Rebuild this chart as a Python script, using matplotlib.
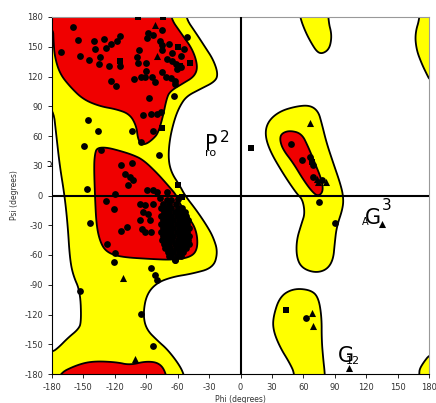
import numpy as np
import matplotlib
matplotlib.use('Agg')
import matplotlib.pyplot as plt
from matplotlib.patches import Polygon

plt.rcParams['axes.unicode_minus'] = False

# region outlines (phi, psi), drawn beyond the limits where they wrap
yellow_regions = [
    [(-200, 200), (-52, 200), (-53, 180), (-42, 163), (-34, 150), (-26, 137), (-21.5, 123),
     (-24, 115), (-39, 107), (-51.6, 100), (-58, 90), (-63, 77), (-67.6, 57), (-69, 37),
     (-66, 23), (-58, 10), (-53, 0), (-42, -15), (-32.4, -30), (-26, -42), (-21.6, -57),
     (-26, -73), (-46.8, -79), (-64.5, -82), (-80, -88), (-89.8, -100), (-93, -119.7),
     (-90, -135), (-78.6, -147), (-70, -155), (-59.6, -169), (-54, -180), (-50, -200),
     (-200, -200), (-200, -160), (-180, -158), (-174, -153.5), (-164.7, -143.5),
     (-155, -135), (-152, -128), (-153, -97), (-160, -80), (-163, -63), (-165, -30),
     (-168, 0), (-172.6, 30), (-175.8, 60), (-179, 90), (-200, 100)],
    [(54, 200), (56.7, 180), (62, 165), (68, 153), (73, 145), (77.5, 143), (83, 146),
     (86, 152), (87, 163), (84, 175), (83, 200)],
    [(51.8, -180), (47, -169), (37.5, -152.6), (31.2, -135.8), (31.2, -122.4), (37.5, -102),
     (50.3, -93.8), (66.3, -95), (74.2, -102), (77.5, -122), (77.5, -145.7), (79, -165),
     (80.6, -180), (81, -200), (51, -200)],
    [(171, 200), (171.4, 180), (166.6, 163), (168, 147), (173, 133), (178, 122),
     (181, 116), (200, 110), (200, 200)],
    [(200, -155), (181, -160), (175, -168), (171, -175), (170.7, -180), (170, -200),
     (200, -200)],
    [(53.5, 90), (66.3, 91), (74.2, 85), (77.5, 73), (82.2, 53), (88.5, 33), (95, 13),
     (98.1, 0), (98, -12), (91.8, -31.7), (90, -48), (88.5, -65), (82.2, -75), (71, -78),
     (58.4, -73), (53.5, -62), (53.5, -45), (58.4, -28), (61.5, -18), (59.3, -4),
     (53.5, 2), (40.7, 22), (28, 45), (23.2, 62), (26.4, 75), (37.5, 85)],
]

red_regions = [
    [(-200, 200), (-66, 200), (-67.5, 180), (-56.3, 163), (-45.5, 147), (-40.7, 130),
     (-44, 120), (-55, 113), (-67.5, 105), (-70.7, 97), (-74, 80), (-78.6, 63),
     (-83.5, 57), (-89.8, 52), (-94.6, 51.6), (-98, 57), (-99.4, 70), (-105.7, 82),
     (-118.5, 87), (-134.4, 90), (-150.4, 97), (-163, 110), (-172.6, 123), (-177.4, 140),
     (-178.5, 155), (-179, 170), (-200, 175)],
    [(-176, -200), (-174, -180), (-156.7, -171), (-141, -167), (-118.5, -168),
     (-105.7, -171), (-89.8, -167), (-77, -169), (-70.7, -180), (-69, -200)],
    [(-137, 48), (-128, 48.5), (-115, 45), (-103, 41), (-93, 36), (-80, 23), (-69, 10),
     (-61, 0), (-58, -8), (-50, -21), (-42, -35), (-40.7, -53), (-46.8, -62),
     (-64.5, -65), (-86.6, -64), (-115, -62), (-128, -57), (-134, -47), (-137.6, -30),
     (-139, 0), (-139.9, 30), (-139, 42)],
    [(39, 62.5), (47, 65.6), (58.4, 62.5), (64.7, 49), (71, 32.8), (77.5, 16), (79, 4),
     (74, -1), (67.9, 4.4), (59.9, 16), (50.3, 32.8), (40.7, 46), (37.5, 56)],
]

# residues (phi, psi)
circle_phi_psi = [
    (-160, 170), (-155, 156.5), (-171, 145), (-153.5, 141), (-145, 137), (-140, 156),
    (-139, 148), (-130.5, 158), (-128, 149), (-124, 153), (-117.5, 156), (-114.7, 160.5),
    (-134, 140), (-135, 133), (-126, 131), (-115, 131), (-124, 115), (-119, 110),
    (-97, 147), (-99, 140), (-98, 134), (-90, 134), (-101.5, 117.5), (-95, 120),
    (-90.8, 119.5), (-84.5, 120), (-90, 126), (-82, 114.5), (-87.8, 98.8), (-88, 164),
    (-89.5, 159), (-84, 162), (-75, 167), (-77, 156), (-75, 151.5), (-74.5, 147),
    (-68, 153), (-54, 148), (-51.3, 160), (-70, 138), (-65.5, 136), (-62, 133),
    (-57, 129.5), (-61, 127.5), (-74.5, 124.5), (-71, 120), (-66.5, 118), (-62.5, 115),
    (-62.5, 112), (-63.5, 100.5), (-93.5, 81), (-85, 82.5), (-80, 82), (-76, 84.6),
    (-65.7, 144), (-57, 141), (-145.6, 76), (-83.5, 65), (-136, 64.6), (-104, 64.6),
    (-94.6, 54), (-149.4, 49.8), (-133.5, 46), (-77.7, 41),
    (-113.7, 30.5), (-103.6, 32.5), (-110.6, 22), (-105.3, 19), (-102.8, 16),
    (-107.6, 11), (-146.5, 7), (-120.2, 2), (-89, 5.5), (-84, 6), (-80, 3.5),
    (-70.5, 4), (-77, -3), (-60, -4), (-96.2, -8.2), (-91.4, -9.9), (-83.4, -8.2),
    (-93, -16.6), (-88.2, -18.3), (-96.2, -25), (-86.6, -25), (-108.5, -31.7),
    (-114, -35.5), (-94, -34), (-91.4, -36.8), (-85, -36.8), (-128.7, -5.5),
    (-120.9, -14), (-144, -27.3), (-127.8, -48.5), (-120, -57.6), (-120.7, -67),
    (-85, -73), (-81.8, -80.4), (-79.3, -84.8), (-153.5, -96), (-94.6, -119.7),
    (-83.6, -152), (-62.2, -64.6), (-67.9, -61), (-56.5, -18),
    (48.7, 52.3), (58.3, 35.5), (66.3, 38.9), (69.5, 31), (68.8, 18.7), (77.4, 15.4),
    (75.2, -6.5), (90.2, -27.3), (63, -123.4),
]

# dense helical cluster
helix_phi_psi = [
    (-70, -5), (-66, -5),
    (-74, -9), (-68, -9), (-62, -9),
    (-76, -13), (-71, -13), (-66, -13), (-60, -13), (-56, -13),
    (-73, -17), (-68, -17), (-63, -17), (-58, -17), (-53, -17),
    (-76, -21), (-71, -21), (-66, -21), (-61, -21), (-56, -21), (-52, -21),
    (-74, -25), (-69, -25), (-64, -25), (-59, -25), (-54, -25), (-50, -25),
    (-76, -29), (-71, -29), (-66, -29), (-61, -29), (-56, -29), (-51, -29),
    (-74, -33), (-69, -33), (-64, -33), (-59, -33), (-54, -33), (-49, -33),
    (-76, -37), (-71, -37), (-66, -37), (-61, -37), (-56, -37), (-51, -37),
    (-74, -41), (-69, -41), (-64, -41), (-59, -41), (-54, -41), (-49, -41),
    (-75, -45), (-70, -45), (-65, -45), (-60, -45), (-55, -45), (-50, -45),
    (-73, -49), (-68, -49), (-63, -49), (-58, -49), (-53, -49), (-49, -49),
    (-72, -53), (-67, -53), (-62, -53), (-57, -53), (-52, -53),
    (-69, -57), (-64, -57), (-59, -57), (-55, -57),
    (-66, -61), (-61, -61), (-57, -61),
    (-63, -65),
]

square_phi_psi = [
    (-98, 180), (-74, 180), (-60, 150), (-48, 134), (-58, 130.6), (-115, 136),
    (-74.5, 68), (-60, 11), (-56, -2), (10.5, 48), (68, 34), (43.3, -115),
]

triangle_phi_psi = [
    (-81.5, 172), (-80, 141), (-112, -82.8), (-100.8, -165), (66.3, 73.5),
    (74.2, 13.7), (81.6, 13.7), (73.3, 17), (134.8, -28.4), (67.9, -118.4),
    (69.5, -131.5), (103.9, -173.5),
]

ticks = list(range(-180, 181, 30))


def smooth(pts, n=3):
    p = np.asarray(pts, float)
    for _ in range(n):
        q = np.roll(p, -1, axis=0)
        out = np.empty((2 * len(p), 2))
        out[0::2] = 0.75 * p + 0.25 * q
        out[1::2] = 0.25 * p + 0.75 * q
        p = out
    return p


fig = plt.figure(figsize=(4.36, 4.03), dpi=100)
ax = fig.add_axes([52 / 436, 29 / 403, 377 / 436, 357 / 403])

for reg in yellow_regions:
    ax.add_patch(Polygon(smooth(reg), closed=True, facecolor='#ffff00',
                         edgecolor='black', lw=1.3, zorder=1))
for reg in red_regions:
    ax.add_patch(Polygon(smooth(reg), closed=True, facecolor='#f00000',
                         edgecolor='black', lw=1.3, zorder=2))

ax.axhline(0, color='black', lw=1.5, zorder=3)
ax.axvline(0, color='black', lw=1.5, zorder=3)

c = np.array(circle_phi_psi + helix_phi_psi)
ax.scatter(c[:, 0], c[:, 1], s=24, marker='o', color='black', lw=0, zorder=4)
s = np.array(square_phi_psi)
ax.scatter(s[:, 0], s[:, 1], s=22, marker='s', color='black', lw=0, zorder=4)
t = np.array(triangle_phi_psi)
ax.scatter(t[:, 0], t[:, 1], s=26, marker='^', color='black', lw=0, zorder=4)

# region labels
ax.text(-34, 45.5, 'P', fontsize=15, zorder=5)
ax.text(-20, 54, '2', fontsize=11, zorder=5)
ax.text(-34, 39.5, 'ro', fontsize=8, zorder=5)
ax.text(119, -29, 'G', fontsize=15, zorder=5)
ax.text(135, -15, '3', fontsize=11, zorder=5)
ax.text(116, -29.5, 'A', fontsize=7, zorder=5)
ax.text(93, -168, 'G', fontsize=15, zorder=5)
ax.text(101, -170, '12', fontsize=8, zorder=3.5)
ax.text(-185, 28.5, 'ɔ', fontsize=7, zorder=5, clip_on=False)

ax.set_xlim(-180, 180)
ax.set_ylim(-180, 180)
ax.set_xticks(ticks)
ax.set_yticks(ticks)
ax.tick_params(direction='out', length=3, width=0.6, labelsize=6, labelcolor='#333333')
ax.set_xlabel('Phi (degrees)', fontsize=5.5, color='#333333', labelpad=2)
ax.set_ylabel('Psi (degrees)', fontsize=5.5, color='#333333', labelpad=4)
for side in ['left', 'bottom']:
    ax.spines[side].set_linewidth(0.8)
for side in ['top', 'right']:
    ax.spines[side].set_color('#999999')
    ax.spines[side].set_linewidth(0.8)

fig.savefig('out.png', dpi=100)
